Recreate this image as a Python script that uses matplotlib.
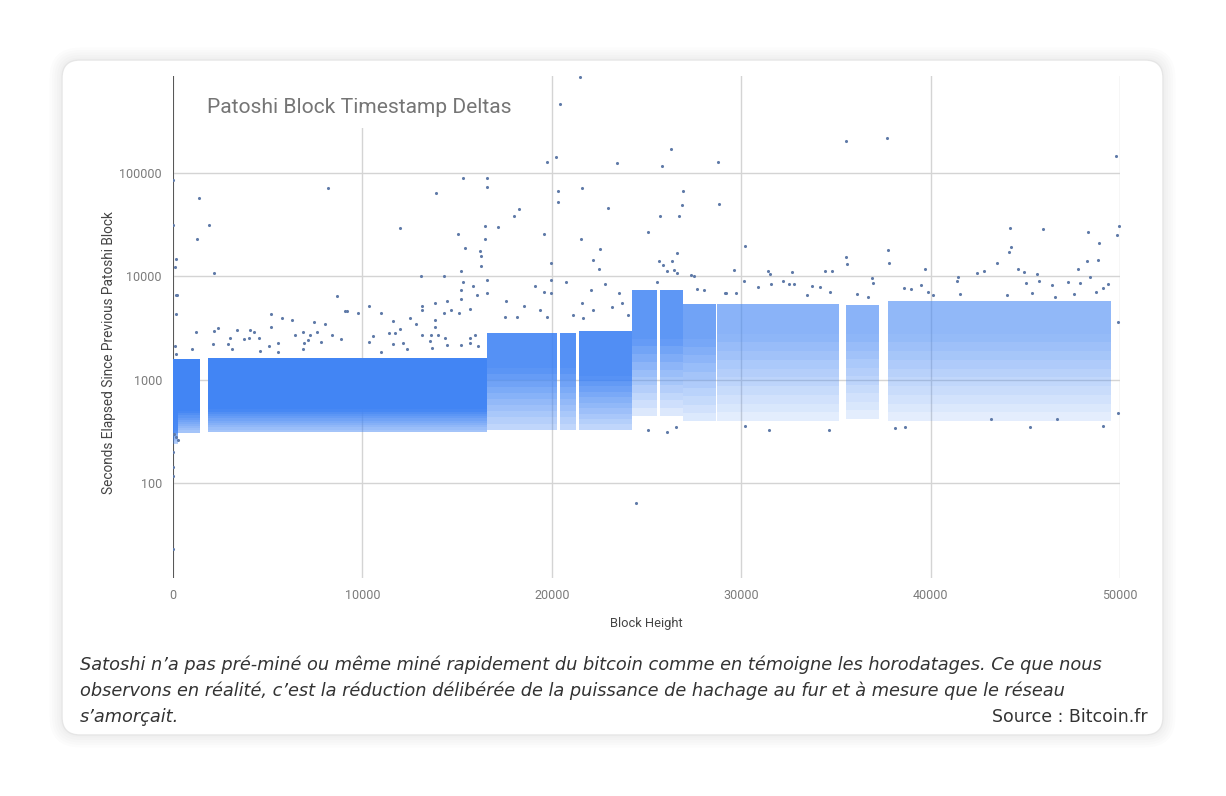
import numpy as np
import matplotlib
matplotlib.use("Agg")
import matplotlib.pyplot as plt
from matplotlib.patches import FancyBboxPatch, Rectangle

plt.rcParams['font.family'] = ['Roboto', 'DejaVu Sans']

# dense bands: block range and seconds (bottom of sparse part, bottom of dense part, top)
band_start = [0, 0, 1875, 16560, 20460, 21440, 24230, 25700, 26920, 28750, 35540, 37760]
band_end = [250, 1410, 16560, 20290, 21300, 24230, 25580, 26920, 28660, 35170, 37290, 49510]
band_low = [240, 310, 315, 330, 330, 330, 450, 450, 400, 400, 420, 400]
band_mid = [330, 500, 520, 1300, 1300, 1100, 2500, 2500, 2500, 2800, 2800, 2800]
band_high = [1200, 1600, 1620, 2850, 2850, 3000, 7400, 7400, 5400, 5400, 5300, 5800]

# lone points (block height, seconds)
pts_block = [
    0, 1380, 8200, 1890, 1270, 0, 140, 90, 2140, 180, 140, 8640, 9080, 9200, 9750,
    5150, 5730, 6280, 5190, 7440, 8040, 1200, 2150, 2380, 3390, 4060, 4290, 2120,
    2890, 3020, 3740, 4000, 4550, 5050, 5560, 6460, 6860, 6900, 7110, 7250, 7620,
    7810, 8410, 8890, 1000, 3120, 4600, 5560, 6840, 10340, 11000, 11620, 11980,
    12540, 12840, 11960, 13880, 15310, 16580, 16600, 15050, 15440, 16490, 16460,
    16230, 16280, 16260, 13090, 14300, 15220, 15330, 15220, 15820, 16030, 16600,
    16600, 15220, 13140, 13140, 13810, 14470, 14680, 14300, 15080, 15700, 13850,
    13850, 13140, 13640, 13990, 14380, 13580, 14470, 15190, 15700, 15960, 15660,
    16110, 11410, 11730, 11640, 12140, 10570, 10350, 11000, 12350, 13670,
    21480, 20460, 19740, 20230, 23460, 25840, 26280, 28780, 20340, 20320, 21620,
    22960, 18270, 18020, 17160, 19580, 21530, 22540, 25080, 25730, 26880, 26930,
    26720, 28820, 26630, 22170, 22470, 25680, 25860, 26330, 26100, 26460, 26600,
    27340, 27510, 29600, 19980, 19980, 19980, 20740, 19580, 19140, 22050, 22790,
    23550, 21600, 22190, 23160, 23690, 24020, 25540, 27660, 28050, 29190, 29720,
    17560, 18520, 18160, 17550, 19400, 19750, 21130, 21660,
    35510, 37720, 49770, 30210, 44200, 45920, 48330, 49950, 49860, 48890, 44250,
    44140, 37760, 37800, 35560, 35580, 43490, 48240, 48860, 47800, 39710, 31410,
    31530, 32670, 34430, 34800, 42450, 42820, 44640, 44940, 45640, 36900, 36960,
    41470, 41380, 48420, 49380, 30160, 30910, 31580, 32230, 32500, 32800, 33730,
    34170, 36100, 38620, 39500, 39890, 45040, 45730, 46400, 47270, 47890, 47570,
    49090, 29160, 33500, 34700, 36720, 38990, 40150, 41560, 44020, 45340, 46590,
    48730,
    200, 100, 150, 0, 0, 0, 0, 24470, 25070, 26070, 26550, 30220, 31490, 34620,
    38100, 38640, 43210, 45270, 46680, 49100, 49910, 49910, 150, 60, 250,
]
pts_sec = [
    86000, 57500, 71800, 31400, 22900, 31400, 14800, 12300, 10700, 6670, 4350, 6430,
    4610, 4610, 4400, 4350, 3950, 3800, 3260, 3610, 3480, 2900, 2960, 3210, 3050,
    3020, 2900, 2250, 2220, 2550, 2500, 2530, 2550, 2150, 2290, 2730, 2900, 2290,
    2440, 2690, 2900, 2330, 2730, 2500, 1970, 2000, 1900, 1880, 2000, 5150, 4470,
    3690, 3140, 4010, 3450, 29400, 64200, 89500, 89500, 73300, 25500, 19000, 30700,
    22900, 17800, 15800, 12500, 10000, 10000, 11200, 8830, 7330, 8020, 6670, 9290,
    6910, 6100, 5150, 4710, 5540, 5750, 4740, 4440, 4440, 4820, 3830, 3260, 2690,
    2690, 2690, 2550, 2370, 2200, 2200, 2550, 2730, 2290, 2130, 2870, 2870, 2250,
    2290, 2650, 2330, 1880, 1970, 2020,
    843000, 459000, 127000, 143000, 126000, 118000, 172000, 129000, 67000, 52500,
    71700, 45600, 44700, 38500, 29900, 26000, 22900, 18500, 27000, 38700, 48800,
    66500, 38700, 50200, 16800, 14500, 11900, 14000, 12900, 14100, 11400, 11500,
    10900, 10400, 10100, 11500, 13600, 9230, 6860, 8750, 7110, 8130, 7380, 8550,
    6950, 5500, 4730, 5020, 5500, 4240, 8750, 7650, 7380, 6950, 6860, 5820, 5210,
    4020, 4020, 4730, 4020, 4240, 3940,
    205000, 220000, 145000, 19700, 29400, 28700, 26900, 30900, 25300, 21200, 19100,
    17200, 17900, 13600, 15300, 13300, 13500, 14200, 14500, 11700, 11900, 11300,
    10600, 11000, 11300, 11300, 10900, 11200, 11700, 11000, 10600, 9700, 8600,
    9860, 9140, 9860, 8490, 9020, 7890, 8380, 9000, 8400, 8400, 8000, 7890, 6840,
    7760, 8180, 7050, 8610, 9140, 8300, 8810, 8610, 6790, 7710, 6900, 6550, 7050,
    6310, 7590, 6650, 6790, 6550, 6900, 6310, 7050,
    6550, 2150, 1800, 200, 144, 119, 23.4, 65, 325, 313, 350, 355, 325, 325, 340,
    350, 424, 350, 424, 355, 474, 3610, 280, 300, 260,
]

caption_lines = [
    "Satoshi n’a pas pré-miné ou même miné rapidement du bitcoin comme en témoigne les horodatages. Ce que nous",
    "observons en réalité, c’est la réduction délibérée de la puissance de hachage au fur et à mesure que le réseau",
    "s’amorçait.",
]

blue = '#4285F4'
# how solid each band looks at its top and at its bottom
top_alpha = [0.9, 1.0, 1.0, 0.9, 0.9, 0.92, 0.85, 0.85, 0.75, 0.62, 0.62, 0.58]
bottom_alpha = [0.35, 0.45, 0.45, 0.3, 0.3, 0.3, 0.15, 0.15, 0.15, 0.12, 0.12, 0.12]

fig = plt.figure(figsize=(12.26, 7.96), dpi=100)
fig.patch.set_facecolor('white')

# card with soft shadow
for i in range(5):
    g = 0.025 * (i + 1)
    fig.patches.append(FancyBboxPatch((0.62 - g, 0.61 - g), 11.01 + 2 * g, 6.75 + 2 * g,
                                      boxstyle="round,pad=0,rounding_size=%f" % (0.18 + g),
                                      transform=fig.dpi_scale_trans, fc='#000000', ec='none',
                                      alpha=0.012, zorder=-3))
fig.patches.append(FancyBboxPatch((0.62, 0.61), 11.01, 6.75, boxstyle="round,pad=0,rounding_size=0.18",
                                  transform=fig.dpi_scale_trans, fc='white', ec='#e6e6e6', lw=1, zorder=-2))

ax = fig.add_axes([0.1411, 0.2739, 0.7724, 0.6306])
ax.set_facecolor('none')
ax.set_yscale('log')
ax.set_xlim(0, 50000)
ax.set_ylim(12.2, 865000)

nfade = 10
for i in range(len(band_start)):
    xs = [band_start[i], band_end[i]]
    ax.fill_between(xs, band_mid[i], band_high[i], color=blue, alpha=top_alpha[i], lw=0,
                    zorder=3, antialiased=False)
    # thinning toward the bottom of the band
    edges = np.geomspace(band_low[i], band_mid[i], nfade + 1)
    for k in range(nfade):
        a = bottom_alpha[i] + (top_alpha[i] - bottom_alpha[i]) * (k + 0.5) / nfade
        ax.fill_between(xs, edges[k], edges[k + 1], color=blue, alpha=a, lw=0,
                        zorder=3, antialiased=False)

ax.scatter(pts_block, pts_sec, s=5, color='#5f7aa8', lw=0, zorder=4, clip_on=True)

ax.set_yticks([100, 1000, 10000, 100000])
ax.set_yticklabels(['100', '1000', '10000', '100000'])
ax.yaxis.set_minor_locator(matplotlib.ticker.NullLocator())
ax.set_xticks([0, 10000, 20000, 30000, 40000, 50000])
ax.set_xticklabels(['0', '10000', '20000', '30000', '40000', '50000'])
ax.grid(True, color='#d4d4d4', lw=1, zorder=1)
ax.set_axisbelow(True)
ax.tick_params(length=0, labelsize=9, colors='#7b7b7b', pad=8)
for s in ax.spines.values():
    s.set_visible(False)
ax.axvline(0, color='#555555', lw=1.4, zorder=2)

# title area covers the grid
ax.add_patch(Rectangle((0.008, 0.897), 0.36, 0.103, transform=ax.transAxes, fc='white', ec='none', zorder=1.5))
ax.text(0.036, 0.937, 'Patoshi Block Timestamp Deltas', transform=ax.transAxes, fontsize=15.1,
        color='#757575', va='center', ha='left', zorder=5)

ax.set_xlabel('Block Height', fontsize=9.3, color='#444444', labelpad=11)
ax.set_ylabel('Seconds Elapsed Since Previous Patoshi Block', fontsize=9.8, color='#444444')
ax.yaxis.set_label_coords(-0.06, 0.45)

for j, line in enumerate(caption_lines):
    fig.text(80 / 1226, 1 - (665 + 26 * j) / 796, line, fontsize=12.8, style='italic', color='#333333',
             family='DejaVu Sans', va='center', ha='left')
fig.text(1148 / 1226, 1 - 717 / 796, 'Source : Bitcoin.fr', fontsize=12.5, color='#333333',
         family='DejaVu Sans', va='center', ha='right')

fig.savefig('out.png', dpi=100)
